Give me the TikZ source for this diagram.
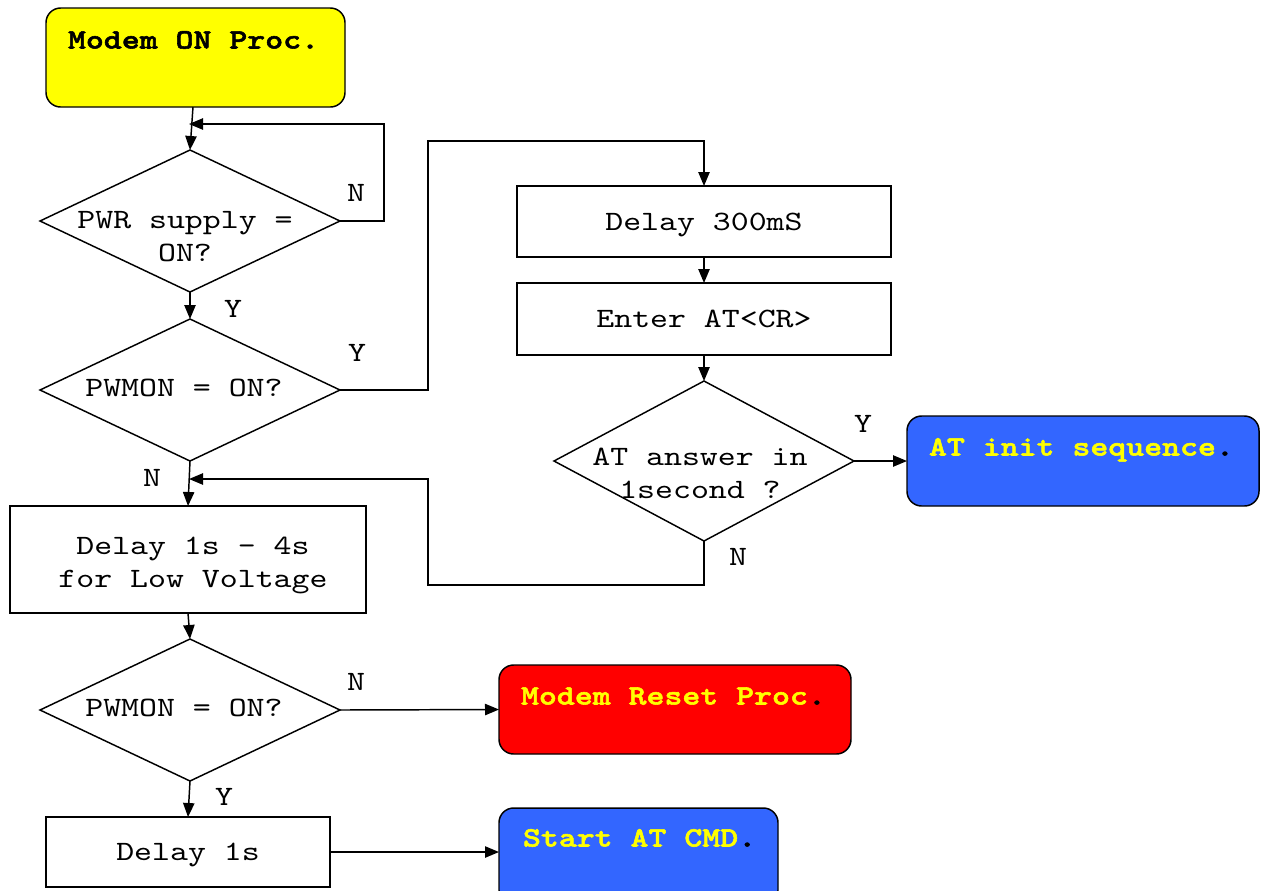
\documentclass[tikz,border=0pt]{standalone}
\usepackage{fontspec}
\setmonofont{lmmono10-regular.otf}[FakeStretch=1.22, BoldFont=lmmonolt10-bold.otf, BoldFeatures={FakeBold=2}]
\usetikzlibrary{shapes.geometric,arrows.meta,calc}
\definecolor{cyel}{HTML}{FFFF00}
\definecolor{cred}{HTML}{FF0000}
\definecolor{cblue}{HTML}{3366FF}
\begin{document}
\begin{tikzpicture}[x=0.75pt,y=-0.75pt,
  every node/.style={inner sep=0pt, outer sep=0pt},
  lbl/.style={font=\ttfamily\fontsize{21}{24.75}\selectfont, text height=12.75pt, text depth=0pt},
  multi/.style={font=\ttfamily\fontsize{21}{24.75}\selectfont, align=center},
  boxtxt/.style={lbl, font=\ttfamily\bfseries\fontsize{21}{24.75}\selectfont, anchor=west},
  plainbox/.style={draw, line width=1.1pt, rectangle, anchor=north west, lbl},
  roundbox/.style={draw, line width=1.1pt, rounded corners=11pt, anchor=north west},
  decision/.style={draw, line width=1.1pt, diamond, minimum width=225pt, minimum height=106.5pt},
  conn/.style={line width=1.1pt, -{Triangle[length=10.5pt,width=8.5pt]}}]

\fill[white] (0,0) rectangle (1263,890);
\useasboundingbox (0,0) rectangle (1263,890);

% rounded terminal boxes
\node[roundbox, fill=cyel, minimum width=224.25pt, minimum height=74.25pt] (m1) at (46,8) {};
\node[roundbox, fill=cblue, minimum width=264pt, minimum height=67.5pt] (atinit) at (907,416) {};
\node[roundbox, fill=cred, minimum width=264pt, minimum height=66.75pt] (reset) at (499,665) {};
\node[roundbox, fill=cblue, minimum width=209.25pt, minimum height=72.75pt] (start) at (499,808) {};

\node[boxtxt] (m1t) at (68,40) {Modem ON Proc.};
\node[boxtxt] (atinitt) at (929,447) {\textcolor{cyel}{AT init sequence}.};
\node[boxtxt] (resett) at (521,696) {\textcolor{cyel}{Modem Reset Proc}.};
\node[boxtxt] (startt) at (523,838) {\textcolor{cyel}{Start AT CMD}.};

% decisions
\node[decision] (d1) at (190,221) {};
\node[decision] (d2) at (190,390) {};
\node[decision] (d4) at (190,710) {};
\node[decision, minimum height=120pt] (d3) at (704,461) {};

\node[multi] (d1t) at (185,237) {PWR supply =\\ON?};
\node[lbl] (d2t) at (184,388) {PWMON = ON?};
\node[lbl] (d4t) at (184,708) {PWMON = ON?};
\node[multi] (d3t) at (700,473) {AT answer in\\1second ?};

% process boxes
\node[plainbox, minimum width=280.5pt, minimum height=53.25pt] (d300) at (517,186) {Delay 300mS};
\node[plainbox, minimum width=280.5pt, minimum height=54pt] (enter) at (517,283) {Enter AT<CR>};
\node[plainbox, minimum width=267pt, minimum height=80.25pt] (delay14) at (10,506) {};
\node[multi] (delay14t) at (193,565) {Delay 1s - 4s\\for Low Voltage};
\node[plainbox, minimum width=213pt, minimum height=52.5pt] (delay1) at (46,817) {Delay 1s};

% junction points
\coordinate (j1) at (189,124);
\coordinate (j2) at (189,479);

% connectors
\draw[conn] ($(m1.south west)+(147,0)$) -- (d1.north);
\draw[conn] (d1.east) -- ++(44,0) |- (j1);
\draw[conn] (d1.south) -- (d2.north);
\draw[conn] (d2.east) -- ++(88,0) |- ($(d300.north)+(0,-45)$) -- (d300.north);
\draw[conn] (d300.south) -- (enter.north);
\draw[conn] (enter.south) -- (d3.north);
\draw[conn] (d3.east) -- (atinit.west);
\draw[conn] (d3.south) -- ++(0,44) -| ($(j2)+(239,0)$) -- (j2);
\draw[conn] (d2.south) -- (delay14.north);
\draw[conn] (delay14.south) -- (d4.north);
\draw[conn] (d4.east) -- (reset.west);
\draw[conn] (d4.south) -- (delay1.north);
\draw[conn] (delay1.east) -- (delay1.east -| start.west);

% branch labels
\node[lbl] (n1) at (356,193) {N};
\node[lbl] (y1) at (233,309) {Y};
\node[lbl] (y2) at (357,353) {Y};
\node[lbl] (n2) at (152,478) {N};
\node[lbl] (y3) at (863,424) {Y};
\node[lbl] (n3) at (738,557) {N};
\node[lbl] (n4) at (356,682) {N};
\node[lbl] (y4) at (224,797) {Y};
\end{tikzpicture}
\end{document}
